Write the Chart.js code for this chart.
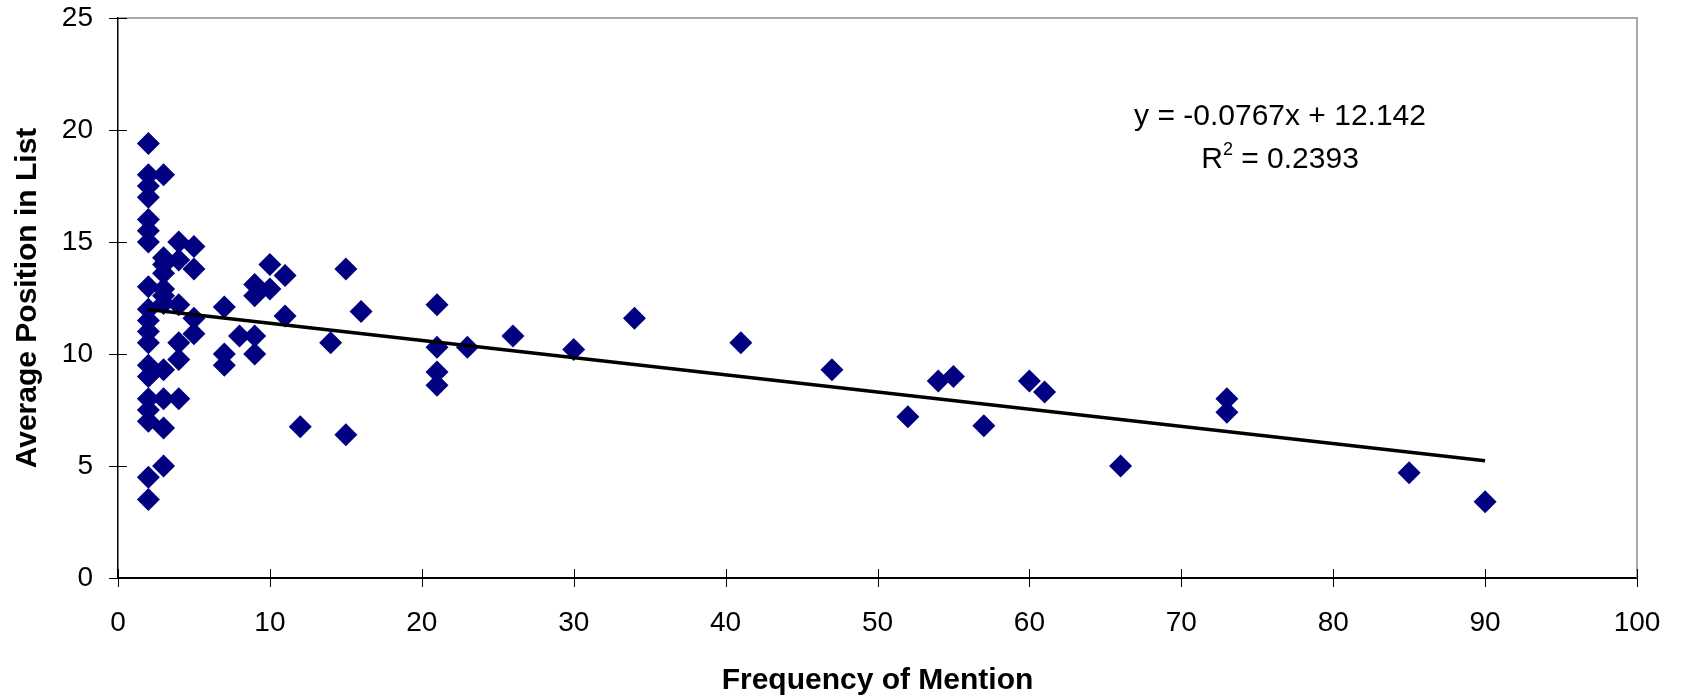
<!DOCTYPE html>
<html>
<head>
<meta charset="utf-8">
<script src="https://cdn.jsdelivr.net/npm/chart.js@4/dist/chart.umd.min.js"></script>
<style>
  html, body { margin: 0; padding: 0; background: #fff; }
  #wrap { width: 1683px; height: 696px; }
</style>
</head>
<body>
<div id="wrap"><canvas id="scatterChart"></canvas></div>
<script>
// frequency of mention (x) and average position in list (y), paired by index
const freqValues = [
    2, 2, 2, 2, 2, 2, 2, 2, 2, 2, 2, 2, 2, 2, 2, 2, 2, 2, 2,
    3, 3, 3, 3, 3, 3, 3, 3, 3, 3, 3,
    4, 4, 4, 4, 4, 4,
    5, 5, 5, 5,
    7, 7, 7,
    8,
    9, 9, 9, 9,
    10, 10,
    11, 11,
    12, 14, 15, 15, 16,
    21, 21, 21, 21,
    23, 26, 30, 34, 41, 47, 52, 54, 55, 57, 60, 61, 66,
    73, 73,
    85, 90
];
const positionValues = [
    19.4, 18, 17.5, 17, 16, 15.5, 15, 13, 12, 11.5, 11, 10.5, 9.5, 9, 8, 7.5, 7, 4.5, 3.5,
    18, 14.3, 14, 13.6, 12.9, 12.6, 12.25, 9.3, 8, 6.7, 5,
    15, 14.2, 12.2, 10.5, 9.75, 8,
    14.8, 13.8, 11.6, 10.9,
    12.1, 10, 9.5,
    10.8,
    13.1, 12.6, 10.8, 10,
    14, 12.9,
    13.5, 11.7,
    6.75, 10.5, 13.8, 6.4, 11.9,
    12.2, 10.3, 9.2, 8.6,
    10.3, 10.8, 10.2, 11.6, 10.5, 9.3, 7.2, 8.8, 9.0, 6.8, 8.8, 8.3, 5.0,
    8.0, 7.4,
    4.7, 3.4
];

// linear trendline as printed on the chart
const trendSlope = -0.0767;
const trendIntercept = 12.142;
const equationText = 'y = -0.0767x + 12.142';
const rSquaredText = '0.2393';

const xTicks = { min: 0, max: 100, step: 10 };
const yTicks = { min: 0, max: 25, step: 5 };

const FONT = "'Liberation Sans', Arial, sans-serif";

const points = freqValues.map((x, i) => ({ x, y: positionValues[i] }));
const minX = Math.min(...freqValues);
const maxX = Math.max(...freqValues);
const trendPoints = [minX, maxX].map(x => ({ x, y: trendSlope * x + trendIntercept }));

// ticks crossing the axes, grey frame on top/right, equation text
const decorations = {
    id: 'decorations',
    afterDraw(chart) {
        const { ctx, chartArea: a, scales: { x, y } } = chart;
        ctx.save();
        ctx.strokeStyle = '#8c8c8c';
        ctx.lineWidth = 1.5;
        ctx.beginPath();
        ctx.moveTo(a.left, a.top);
        ctx.lineTo(a.right, a.top);
        ctx.lineTo(a.right, a.bottom);
        ctx.stroke();

        ctx.strokeStyle = '#000';
        ctx.lineWidth = 1;
        ctx.beginPath();
        for (let v = xTicks.min; v <= xTicks.max; v += xTicks.step) {
            const px = Math.round(x.getPixelForValue(v)) + 0.5;
            ctx.moveTo(px, a.bottom - 9);
            ctx.lineTo(px, a.bottom + 9);
        }
        for (let v = yTicks.min; v <= yTicks.max; v += yTicks.step) {
            const py = Math.round(y.getPixelForValue(v)) + 0.5;
            ctx.moveTo(a.left - 9, py);
            ctx.lineTo(a.left + 9, py);
        }
        ctx.stroke();

        // regression label
        ctx.fillStyle = '#000';
        ctx.textBaseline = 'middle';
        ctx.textAlign = 'center';
        ctx.font = '30px ' + FONT;
        const cx = x.getPixelForValue(76.5);
        ctx.fillText(equationText, cx, y.getPixelForValue(20.6));

        const rowY = y.getPixelForValue(18.66);
        const rPart = 'R';
        const rest = ' = ' + rSquaredText;
        const wR = ctx.measureText(rPart).width;
        const wRest = ctx.measureText(rest).width;
        ctx.font = '18px ' + FONT;
        const wSup = ctx.measureText('2').width;
        const startX = cx - (wR + wSup + wRest) / 2;
        ctx.textAlign = 'left';
        ctx.font = '30px ' + FONT;
        ctx.fillText(rPart, startX, rowY);
        ctx.font = '18px ' + FONT;
        ctx.fillText('2', startX + wR, rowY - 10);
        ctx.font = '30px ' + FONT;
        ctx.fillText(rest, startX + wR + wSup, rowY);
        ctx.restore();
    }
};

new Chart(document.getElementById('scatterChart'), {
    type: 'scatter',
    data: {
        datasets: [
            {
                type: 'line',
                label: 'Trend',
                data: trendPoints,
                borderColor: '#000',
                borderWidth: 3.5,
                pointRadius: 0,
                fill: false
            },
            {
                label: 'Average Position',
                data: points,
                pointStyle: 'rectRot',
                pointRadius: 11.5,
                pointBorderWidth: 0,
                backgroundColor: '#000080',
                borderColor: '#000080'
            }
        ]
    },
    options: {
        responsive: true,
        maintainAspectRatio: false,
        animation: false,
        devicePixelRatio: 1,
        layout: { padding: { top: 18, right: 46, left: 0, bottom: 0 } },
        plugins: {
            legend: { display: false },
            tooltip: { enabled: false }
        },
        scales: {
            x: {
                type: 'linear',
                min: xTicks.min,
                max: xTicks.max,
                afterFit: s => { s.height = 118; },
                grid: { display: true, drawOnChartArea: false, drawTicks: true, tickLength: 28, tickColor: 'rgba(0,0,0,0)' },
                border: { display: true, color: '#000', width: 2 },
                ticks: {
                    stepSize: xTicks.step,
                    padding: 0,
                    color: '#000',
                    font: { family: FONT, size: 28 },
                    maxRotation: 0
                },
                title: {
                    display: true,
                    text: 'Frequency of Mention',
                    color: '#000',
                    font: { family: FONT, size: 30, weight: 'bold', lineHeight: 1 },
                    padding: { top: 0, bottom: 0 }
                }
            },
            y: {
                type: 'linear',
                min: yTicks.min,
                max: yTicks.max,
                afterFit: s => { s.width = 118; },
                grid: { display: true, drawOnChartArea: false, drawTicks: true, tickLength: 25, tickColor: 'rgba(0,0,0,0)' },
                border: { display: true, color: '#000', width: 1.5 },
                ticks: {
                    stepSize: yTicks.step,
                    padding: 0,
                    color: '#000',
                    font: { family: FONT, size: 28 }
                },
                title: {
                    display: true,
                    text: 'Average Position in List',
                    color: '#000',
                    font: { family: FONT, size: 30, weight: 'bold', lineHeight: 1 },
                    padding: { top: 13, bottom: 0 }
                }
            }
        }
    },
    plugins: [decorations]
});
</script>
</body>
</html>
